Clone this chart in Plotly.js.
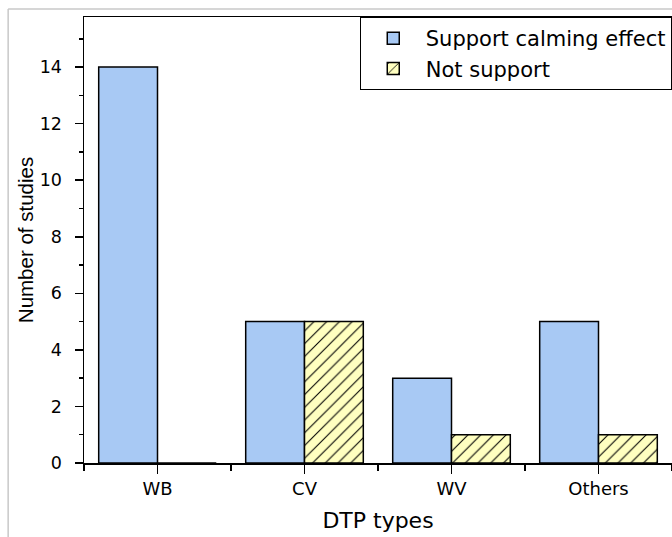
<!DOCTYPE html>
<html><head><meta charset="utf-8">
<script src="https://cdn.plot.ly/plotly-3.0.1.min.js"></script>
<style>body{margin:0;padding:0;background:#fff}#chart{width:672px;height:537px}</style>
</head><body><div id="chart"></div>
<script>
const categories = ["WB", "CV", "WV", "Others"];
const supportValues = [14, 5, 3, 5];
const notSupportValues = [0, 5, 1, 1];
const seriesNames = ["Support calming effect", "Not support"];
const yTickVals = [0, 2, 4, 6, 8, 10, 12, 14];

const xIdx = categories.map((c, i) => i);
const wide = "DejaVu Sans, Verdana, sans-serif";
const arial = "Liberation Sans, Arial, sans-serif";

const traces = [
  {type: "bar", name: seriesNames[0], x: xIdx, y: supportValues,
   marker: {color: "#a8c9f4", line: {color: "#000", width: 1.5}}},
  {type: "bar", name: seriesNames[1], x: xIdx, y: notSupportValues,
   marker: {color: "#ffffc0", line: {color: "#000", width: 1.5},
            pattern: {shape: "/", fgcolor: "#000", bgcolor: "#ffffc0", size: 9, solidity: 0.12}}}
];

const layout = {
  width: 672, height: 537,
  margin: {l: 84, r: 0, t: 17, b: 74},
  paper_bgcolor: "#fff", plot_bgcolor: "#fff",
  barmode: "group", bargap: 0.2, bargroupgap: 0,
  font: {family: wide, color: "#000"},
  showlegend: true,
  legend: {x: 0.469, y: 1.0, xanchor: "left", yanchor: "top",
           bgcolor: "#fff", bordercolor: "#000", borderwidth: 1,
           font: {family: wide, size: 21, color: "#000"},
           tracegroupgap: 0, itemwidth: 55},
  xaxis: {
    range: [-0.5, 3.5], tickvals: xIdx, ticktext: categories,
    showline: true, linecolor: "#000", linewidth: 1.5, mirror: true,
    ticks: "outside", ticklen: 9, tickwidth: 1.5, tickcolor: "#000",
    minor: {dtick: 0.5, tick0: 0, ticks: "outside", ticklen: 6, tickwidth: 1.5, tickcolor: "#000"},
    showgrid: false, zeroline: false,
    tickfont: {family: wide, size: 18},
    title: {text: "DTP types", font: {family: wide, size: 22}, standoff: 14}
  },
  yaxis: {
    range: [0, 15.77], tickvals: yTickVals,
    showline: true, linecolor: "#000", linewidth: 1.5,
    ticks: "outside", ticklen: 8, tickwidth: 1.5, tickcolor: "#000",
    minor: {dtick: 1, ticks: "outside", ticklen: 4, tickwidth: 1.5, tickcolor: "#000"},
    showgrid: false, zeroline: false, ticklabelstandoff: 9,
    tickfont: {family: wide, size: 17.5},
    title: {text: "Number of studies", font: {family: arial, size: 20.5}, standoff: 0}
  },
  shapes: [
    {type: "line", xref: "paper", yref: "paper", x0: -0.129, x1: 1.01, y0: 1.018, y1: 1.018, line: {color: "#c8c8c8", width: 1.5}},
    {type: "line", xref: "paper", yref: "paper", x0: -0.129, x1: -0.129, y0: 1.018, y1: -0.2, line: {color: "#c8c8c8", width: 1.5}}
  ]
};

Plotly.newPlot("chart", traces, layout, {displayModeBar: false, staticPlot: true});
</script></body></html>
